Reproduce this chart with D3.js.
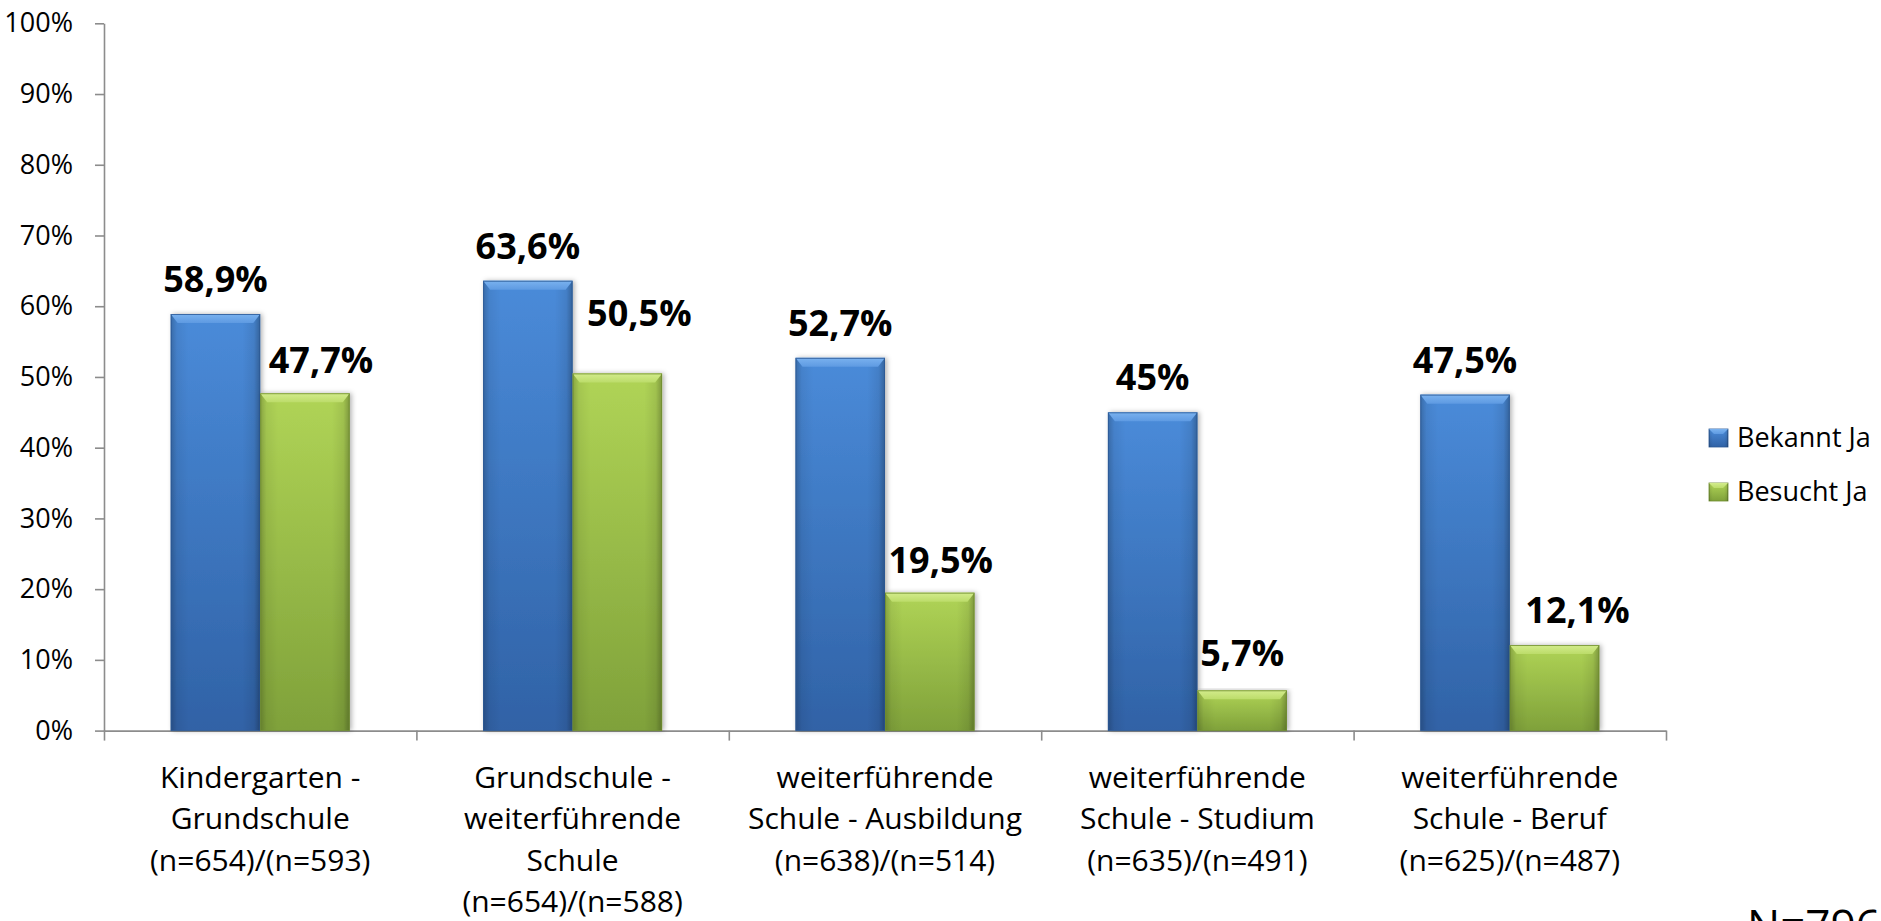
<!DOCTYPE html>
<html>
<head>
<meta charset="utf-8">
<script src="https://cdn.jsdelivr.net/npm/d3@7"></script>
<style>
  html, body { margin: 0; padding: 0; background: #ffffff; }
  svg { display: block; }
  text { font-family: "Open Sans", "Noto Sans", sans-serif; fill: #000; }
</style>
</head>
<body>
<svg id="chart" width="1881" height="921"></svg>
<script>
// ---------- data ----------
const categories = [
  "Kindergarten - Grundschule",
  "Grundschule - weiterführende Schule",
  "weiterführende Schule - Ausbildung",
  "weiterführende Schule - Studium",
  "weiterführende Schule - Beruf"
];
const categoryLines = [
  ["Kindergarten -", "Grundschule", "(n=654)/(n=593)"],
  ["Grundschule -", "weiterführende", "Schule", "(n=654)/(n=588)"],
  ["weiterführende", "Schule - Ausbildung", "(n=638)/(n=514)"],
  ["weiterführende", "Schule - Studium", "(n=635)/(n=491)"],
  ["weiterführende", "Schule - Beruf", "(n=625)/(n=487)"]
];
const seriesNames = ["Bekannt Ja", "Besucht Ja"];
const bekanntJa = [58.9, 63.6, 52.7, 45.0, 47.5];
const besuchtJa = [47.7, 50.5, 19.5, 5.7, 12.1];
const yTicks = [0, 10, 20, 30, 40, 50, 60, 70, 80, 90, 100];
const noteText = "N=796";

// label nudges (px) for the data labels, [series][category] -> [dx, dy]
const labelNudge = [
  [[0,0],[0,0],[0,0],[0,0],[0,0]],
  [[16,2],[22,-25],[11,2],[0,-2],[23,0]]
];

// ---------- layout ----------
const plotLeft = 104, plotRight = 1666, plotTop = 23.3, plotBottom = 730.6;

const svg = d3.select("#chart");
const defs = svg.append("defs");

const palettes = [
  { top: "#4a8bd9", bottom: "#3062a6", bevelTop: "#7ab2ef", bevelBot: "#5e9ae2", stroke: "#2b5894" },
  { top: "#b0d456", bottom: "#7fa13a", bevelTop: "#d3ec8c", bevelBot: "#bcdc6a", stroke: "#6e8c2e" }
];

palettes.forEach((p, i) => {
  const g = defs.append("linearGradient").attr("id", "body" + i)
    .attr("x1", 0).attr("y1", 0).attr("x2", 0).attr("y2", 1);
  g.append("stop").attr("offset", "0%").attr("stop-color", p.top);
  g.append("stop").attr("offset", "100%").attr("stop-color", p.bottom);
  const b = defs.append("linearGradient").attr("id", "bevel" + i)
    .attr("x1", 0).attr("y1", 0).attr("x2", 0).attr("y2", 1);
  b.append("stop").attr("offset", "0%").attr("stop-color", p.bevelTop);
  b.append("stop").attr("offset", "100%").attr("stop-color", p.bevelBot);
});
const side = defs.append("linearGradient").attr("id", "sideShade")
  .attr("x1", 0).attr("y1", 0).attr("x2", 1).attr("y2", 0);
[[0, 0.22], [0.07, 0.06], [0.2, 0], [0.8, 0], [0.93, 0.08], [1, 0.28]].forEach(([o, a]) => {
  side.append("stop").attr("offset", (o * 100) + "%").attr("stop-color", "#000").attr("stop-opacity", a);
});
const shadow = defs.append("filter").attr("id", "shadow")
  .attr("x", "-20%").attr("y", "-5%").attr("width", "140%").attr("height", "110%");
shadow.append("feDropShadow").attr("dx", 2).attr("dy", 0).attr("stdDeviation", 2.5)
  .attr("flood-color", "#000").attr("flood-opacity", 0.3);

// ---------- scales ----------
const x0 = d3.scaleBand().domain(categories).range([plotLeft, plotRight])
  .paddingInner(0.427).paddingOuter(0.2135);
const x1 = d3.scaleBand().domain(seriesNames).range([0, x0.bandwidth()]).padding(0);
const y = d3.scaleLinear().domain([0, 100]).range([plotBottom, plotTop]);
const xBound = d3.scaleLinear().domain([0, categories.length]).range([plotLeft, plotRight]);

const pctFmt = d3.formatLocale({ decimal: ",", thousands: ".", grouping: [3], currency: ["", "€"] });
const valueFmt = pctFmt.format(".1~%");
const tickFmt = pctFmt.format(".0%");

// ---------- axes ----------
const axisColor = "#8c8c8c";
const yAxis = svg.append("g").attr("transform", `translate(${plotLeft},0)`)
  .call(d3.axisLeft(y).tickValues(yTicks).tickFormat(d => tickFmt(d / 100)).tickSize(9).tickPadding(22).tickSizeOuter(0));
yAxis.select(".domain").attr("stroke", axisColor).attr("stroke-width", 1.6);
yAxis.selectAll(".tick line").attr("stroke", axisColor).attr("stroke-width", 1.6);
yAxis.selectAll(".tick text").attr("font-family", "'Open Sans', sans-serif").attr("font-size", 27).attr("fill", "#000");

const xAxis = svg.append("g").attr("transform", `translate(0,${plotBottom})`)
  .call(d3.axisBottom(xBound).tickValues(d3.range(categories.length + 1)).tickFormat("").tickSize(10).tickSizeOuter(0));
xAxis.select(".domain").attr("stroke", axisColor).attr("stroke-width", 1.6);
xAxis.selectAll(".tick line").attr("stroke", axisColor).attr("stroke-width", 1.6);

// ---------- bars ----------
const seriesData = [bekanntJa, besuchtJa];
const rows = [];
seriesData.forEach((vals, s) => vals.forEach((v, c) => rows.push({ s, c, v })));

const bars = svg.append("g").selectAll("g.bar").data(rows).join("g").attr("class", "bar");
bars.each(function(d) {
  const g = d3.select(this);
  const bx = x0(categories[d.c]) + x1(seriesNames[d.s]);
  const bw = x1.bandwidth();
  const by = y(d.v);
  const bh = y(0) - y(d.v);
  const p = palettes[d.s];
  const bev = Math.min(9, bh / 2), inset = 7;
  g.append("rect").attr("x", bx).attr("y", by).attr("width", bw).attr("height", bh)
    .attr("fill", `url(#body${d.s})`).attr("filter", "url(#shadow)");
  g.append("rect").attr("x", bx).attr("y", by).attr("width", bw).attr("height", bh)
    .attr("fill", "url(#sideShade)");
  g.append("polygon")
    .attr("points", [[bx, by], [bx + bw, by], [bx + bw - inset, by + bev], [bx + inset, by + bev]].map(q => q.join(",")).join(" "))
    .attr("fill", `url(#bevel${d.s})`);
  g.append("rect").attr("x", bx + 0.5).attr("y", by + 0.5).attr("width", bw - 1).attr("height", bh - 0.5)
    .attr("fill", "none").attr("stroke", p.stroke).attr("stroke-width", 1).attr("stroke-opacity", 0.8);
});

// ---------- data labels ----------
svg.append("g").selectAll("text.val").data(rows).join("text").attr("class", "val")
  .attr("x", d => x0(categories[d.c]) + x1(seriesNames[d.s]) + x1.bandwidth() / 2 + labelNudge[d.s][d.c][0])
  .attr("y", d => y(d.v) - 22 + labelNudge[d.s][d.c][1])
  .attr("text-anchor", "middle")
  .attr("font-size", 36).attr("font-weight", 700)
  .text(d => valueFmt(d.v / 100));

// ---------- category labels ----------
const catG = svg.append("g").selectAll("text.cat").data(categories).join("text").attr("class", "cat")
  .attr("text-anchor", "middle").attr("font-size", 30)
  .attr("x", d => x0(d) + x0.bandwidth() / 2)
  .attr("y", plotBottom + 57);
catG.each(function(d, i) {
  const t = d3.select(this);
  categoryLines[i].forEach((line, j) => {
    t.append("tspan").attr("x", x0(d) + x0.bandwidth() / 2).attr("dy", j === 0 ? 0 : 41.5).text(line);
  });
});

// ---------- legend ----------
const legend = svg.append("g").attr("transform", "translate(1709,429)");
seriesNames.forEach((name, i) => {
  const lg = legend.append("g").attr("transform", `translate(0,${i * 54})`);
  lg.append("rect").attr("width", 19).attr("height", 18).attr("fill", `url(#body${i})`)
    .attr("stroke", palettes[i].stroke).attr("stroke-width", 0.8);
  lg.append("rect").attr("width", 19).attr("height", 18).attr("fill", "url(#sideShade)");
  lg.append("polygon").attr("points", "0,0 19,0 14,5 5,5").attr("fill", `url(#bevel${i})`);
  lg.append("text").attr("x", 28).attr("y", 18).attr("font-size", 27).text(name);
});

// ---------- note ----------
svg.append("text").attr("x", 1747).attr("y", 941).attr("font-size", 44).text(noteText);
</script>
</body>
</html>
